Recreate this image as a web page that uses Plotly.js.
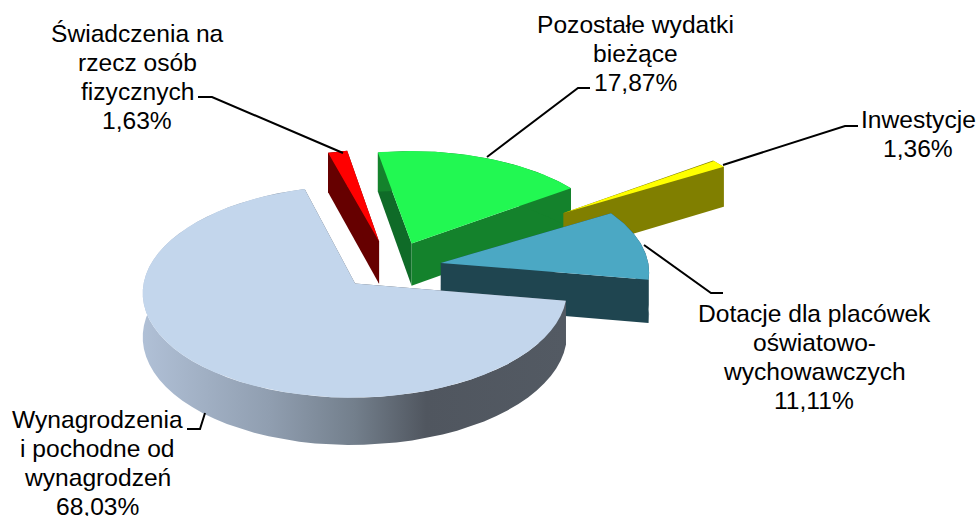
<!DOCTYPE html>
<html><head><meta charset="utf-8">
<script src="https://cdn.plot.ly/plotly-3.0.1.min.js"></script>
<style>html,body{margin:0;padding:0;background:#fff;overflow:hidden}#c{width:977px;height:516px}</style>
</head><body><div id="c"></div>
<script>
// ---- data ----
var categories = ["Świadczenia na rzecz osób fizycznych","Pozostałe wydatki bieżące","Inwestycje","Dotacje dla placówek oświatowo-wychowawczych","Wynagrodzenia i pochodne od wynagrodzeń"];
var shares = [1.63,17.87,1.36,11.11,68.03];
var labelLines = [
  ["Świadczenia na","rzecz osób","fizycznych","1,63%"],
  ["Pozostałe wydatki","bieżące","17,87%"],
  ["Inwestycje","1,36%"],
  ["Dotacje dla placówek","oświatowo-","wychowawczych","11,11%"],
  ["Wynagrodzenia","i pochodne od","wynagrodzeń","68,03%"]
];
// ---- style / layout ----
var explode = [0.22,0.2,0.97,0.22,0.29];
var nudge = [[-6,1],[1,0],[6,3],[1,5],[1,-1]];
var topColors = ["#FF0000","#22F852","#FFFF00","#4BA8C4","#C3D6EC"];
var cutStart = ["#660000","#0F6B28","#807F00","#1F4550","#50565F"];
var cutEnd   = ["#660000","#14822C","#807F00","#1F4550","#50565F"];
var wallColors = ["#660000","#14822C","#807F00","#1F4550","#50565F"];
var labelPos = [[137,33,29],[635,24,29],[918,119,29],[814,313,29],[97,419,29]];
var leaders = [
  [[343,153],[212,97],[198,97]],
  [[487,157],[578,88],[590,88]],
  [[723,165],[845,126],[858,126]],
  [[644,245],[711,293],[723,293]],
  [[205,413],[200,429],[187,429]]
];
var startAngle = -15.7, cx=395, cy=262, A=208, B=102, persp=0.076, H=43;

function project(X,Z,h,n){
  var s=1/(1-persp*Z);
  return [cx+A*X*s+n[0], cy+(B*Z+h)*s+n[1]];
}
function poly(pts,color,extra){
  var t={type:"scatter",mode:"lines",x:pts.map(function(p){return p[0]}),y:pts.map(function(p){return p[1]}),
    fill:"toself",fillcolor:color,line:{width:0,color:color},hoverinfo:"skip",showlegend:false};
  if(extra) for(var k in extra) t[k]=extra[k];
  return t;
}
var traces=[];
var total=shares.reduce(function(a,b){return a+b},0), ang=startAngle;
shares.forEach(function(v,i){
  var a0=ang, a1=ang+v/total*360; ang=a1;
  var mid=(a0+a1)/2*Math.PI/180, ex=explode[i]*Math.sin(mid), ez=-explode[i]*Math.cos(mid), n=nudge[i];
  var arc=function(h){var r=[];for(var k=0;k<=60;k++){var t=(a0+(a1-a0)*k/60)*Math.PI/180;
      r.push(project(ex+Math.sin(t),ez-Math.cos(t),h,n));}return r;};
  var top=arc(0), bot=arc(H), ap0=project(ex,ez,0,n), ap1=project(ex,ez,H,n);
  var extra=null;
  if(i===4) extra={fillgradient:{type:"horizontal",colorscale:[[0,"#B0C0D6"],[0.3,"#909EB0"],[0.5,"#737F8C"],[0.67,"#50565F"],[1,"#535A63"]]}};
  traces.push(poly([ap0,top[0],bot[0],ap1],cutStart[i]));
  traces.push(poly([ap0,top[60],bot[60],ap1],cutEnd[i]));
  traces.push(poly(top.concat(bot.slice().reverse()),wallColors[i],extra));
  traces.push(poly([ap0].concat(top),topColors[i]));
});
var shapes=leaders.map(function(l){
  return {type:"path",xref:"x",yref:"y",path:"M"+l.map(function(p){return p.join(",")}).join(" L"),line:{color:"#000",width:2}};
});
var annotations=[];
labelLines.forEach(function(lines,i){
  lines.forEach(function(txt,j){
    annotations.push({xref:"x",yref:"y",x:labelPos[i][0],y:labelPos[i][1]+j*labelPos[i][2],text:txt,showarrow:false,xanchor:"center",yanchor:"middle",
      font:{family:"Liberation Sans, Arial, sans-serif",size:24.6,color:"#000"}});
  });
});
Plotly.newPlot("c",traces,{
  width:977,height:516,margin:{l:0,r:0,t:0,b:0},paper_bgcolor:"#fff",plot_bgcolor:"#fff",showlegend:false,hovermode:false,
  xaxis:{range:[0,977],visible:false,fixedrange:true},
  yaxis:{range:[516,0],visible:false,fixedrange:true},
  shapes:shapes,annotations:annotations
},{displayModeBar:false,staticPlot:true});
</script></body></html>
